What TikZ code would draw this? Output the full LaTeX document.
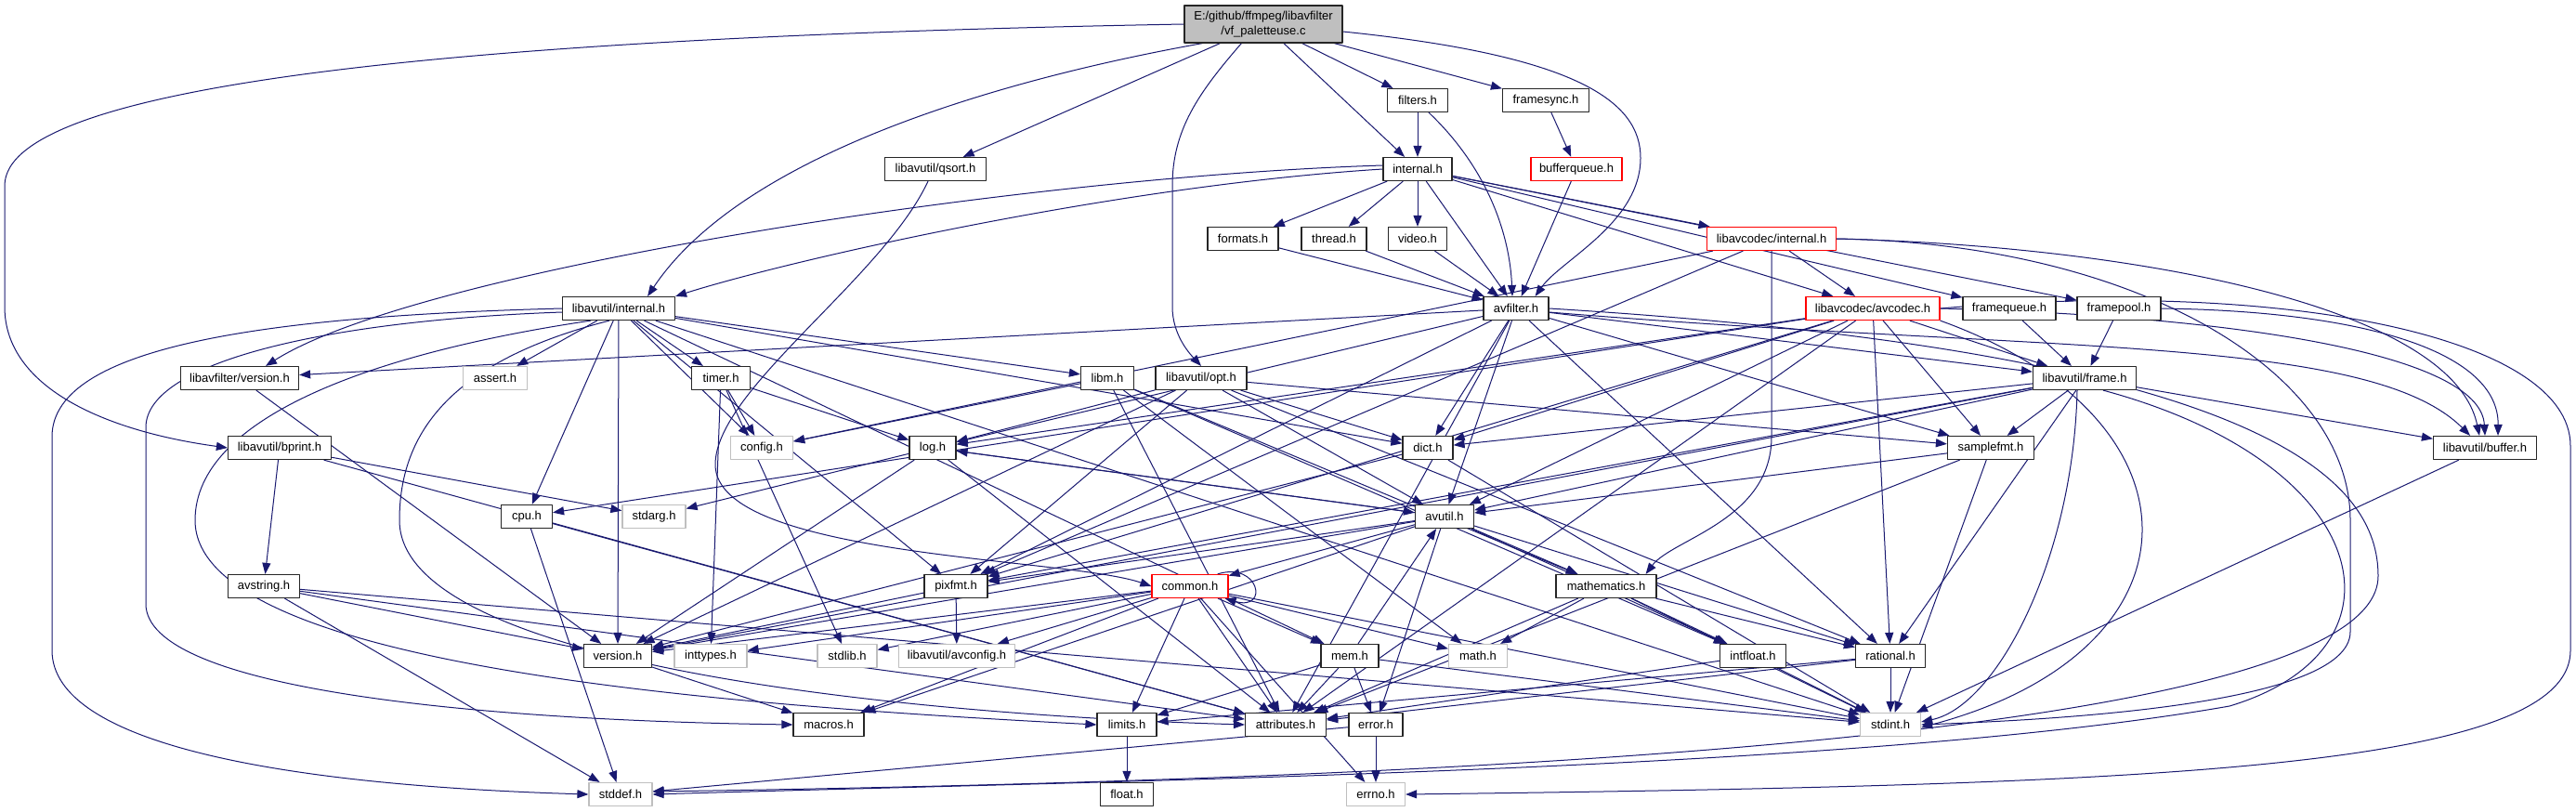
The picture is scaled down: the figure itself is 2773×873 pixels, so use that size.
\documentclass[tikz,border=0pt]{standalone}
\usepackage{fontspec}
\setmainfont{Liberation Sans}
\usetikzlibrary{arrows.meta}
\definecolor{edgeblue}{HTML}{191970}
\definecolor{sysgray}{HTML}{BFBFBF}
\pgfdeclarelayer{paper}
\pgfdeclarelayer{wires}
\pgfsetlayers{paper,wires,main}

\begin{document}
\begin{tikzpicture}[x=1pt,y=-1pt,>={Triangle[length=12pt,width=9pt]},line join=round,
  hdr/.style={draw=black!85,fill=white,line width=1.2pt,minimum height=25pt,inner sep=0pt,font=\fontsize{13pt}{16pt}\selectfont},
  syshdr/.style={hdr,draw=sysgray},
  cuthdr/.style={hdr,draw=red},
  inc/.style={draw=edgeblue,line width=1pt,->}]
\begin{pgfonlayer}{paper}
\fill[white] (0,0) rectangle (2773,873);
\end{pgfonlayer}
\useasboundingbox (0,0) rectangle (2773,873);

% the file itself
\node[hdr,fill=sysgray,minimum width=170pt,minimum height=40pt,align=center] (root) at (1360,26) {E:/github/ffmpeg/libavfilter\\/vf\_paletteuse.c};

% row 1 .. 3
\node[hdr,minimum width=65pt] (filters) at (1526,108) {filters.h};
\node[hdr,minimum width=93pt] (framesync) at (1664,108) {framesync.h};
\node[hdr,minimum width=109pt] (qsort) at (1007,182) {libavutil/qsort.h};
\node[hdr,minimum width=74pt] (lavfiint) at (1526,182) {internal.h};
\node[cuthdr,minimum width=98pt] (bufq) at (1697,182) {bufferqueue.h};
\node[hdr,minimum width=76pt] (formats) at (1338,257) {formats.h};
\node[hdr,minimum width=70pt] (thread) at (1436,257) {thread.h};
\node[hdr,minimum width=63pt] (video) at (1526,257) {video.h};
\node[cuthdr,minimum width=139pt] (lavcint) at (1907,257) {libavcodec/internal.h};

% row 4 .. 7
\node[hdr,minimum width=121pt] (lavuint) at (666,332) {libavutil/internal.h};
\node[hdr,minimum width=70pt] (avfilter) at (1632,332) {avfilter.h};
\node[cuthdr,minimum width=144pt] (avcodec) at (2016,332) {libavcodec/avcodec.h};
\node[hdr,minimum width=100pt] (frmqueue) at (2163,332) {framequeue.h};
\node[hdr,minimum width=90pt] (frmpool) at (2281,332) {framepool.h};
\node[hdr,minimum width=127pt] (lavfiver) at (258,407) {libavfilter/version.h};
\node[syshdr,minimum width=69pt] (assert) at (533,407) {assert.h};
\node[hdr,minimum width=63pt] (timer) at (776,407) {timer.h};
\node[hdr,minimum width=57pt] (libm) at (1192,407) {libm.h};
\node[hdr,minimum width=98pt] (opt) at (1293,407) {libavutil/opt.h};
\node[hdr,minimum width=111pt] (frame) at (2244,407) {libavutil/frame.h};
\node[hdr,minimum width=111pt] (bprint) at (301,482) {libavutil/bprint.h};
\node[syshdr,minimum width=67pt] (config) at (820,482) {config.h};
\node[hdr,minimum width=50pt] (log) at (1004,482) {log.h};
\node[hdr,minimum width=54pt] (dict) at (1537,482) {dict.h};
\node[hdr,minimum width=93pt] (samplefmt) at (2143,482) {samplefmt.h};
\node[hdr,minimum width=111pt] (buffer) at (2675,482) {libavutil/buffer.h};
\node[hdr,minimum width=55pt] (cpu) at (567,556) {cpu.h};
\node[syshdr,minimum width=68pt] (stdarg) at (704,556) {stdarg.h};
\node[hdr,minimum width=63pt] (avutil) at (1555,556) {avutil.h};

% row 8 .. 11
\node[hdr,minimum width=77pt] (avstring) at (284,631) {avstring.h};
\node[hdr,minimum width=68pt] (pixfmt) at (1029,631) {pixfmt.h};
\node[cuthdr,minimum width=82pt] (common) at (1281,631) {common.h};
\node[hdr,minimum width=108pt] (mathem) at (1729,631) {mathematics.h};
\node[hdr,minimum width=73pt] (version) at (665,706) {version.h};
\node[syshdr,minimum width=78pt] (inttypes) at (765,706) {inttypes.h};
\node[syshdr,minimum width=64pt] (stdlib) at (912,706) {stdlib.h};
\node[syshdr,minimum width=125pt] (avconfig) at (1030,706) {libavutil/avconfig.h};
\node[hdr,minimum width=62pt] (mem) at (1453,706) {mem.h};
\node[syshdr,minimum width=63pt] (math) at (1591,706) {math.h};
\node[hdr,minimum width=71pt] (intfloat) at (1887,706) {intfloat.h};
\node[hdr,minimum width=75pt] (rational) at (2035,706) {rational.h};
\node[hdr,minimum width=76pt] (macros) at (892,780) {macros.h};
\node[hdr,minimum width=64pt] (limits) at (1213,780) {limits.h};
\node[hdr,minimum width=87pt] (attrib) at (1384,780) {attributes.h};
\node[hdr,minimum width=58pt] (error) at (1481,780) {error.h};
\node[syshdr,minimum width=65pt] (stdint) at (2035,780) {stdint.h};
\node[syshdr,minimum width=68pt] (stddef) at (668,855) {stddef.h};
\node[hdr,minimum width=57pt] (float) at (1213,855) {float.h};
\node[syshdr,minimum width=63pt] (errno) at (1481,855) {errno.h};

\begin{pgfonlayer}{wires}
% direct includes
\foreach \from/\to in {root/qsort,root/filters,root/framesync,root/lavfiint,filters/lavfiint,
  framesync/bufq,bufq/avfilter,
  lavfiint/formats,lavfiint/thread,lavfiint/video,lavfiint/avfilter,lavfiint/lavcint,lavfiint/avcodec,lavfiint/frmqueue,lavfiint/frmpool,
  formats/avfilter,thread/avfilter,video/avfilter,
  lavcint/avcodec,lavcint/pixfmt,lavcint/config,
  avcodec/dict,avcodec/avutil,avcodec/log,avcodec/pixfmt,avcodec/cpu,avcodec/samplefmt,avcodec/frame,avcodec/rational,avcodec/attrib,
  avfilter/lavfiver,avfilter/attrib,avfilter/avutil,avfilter/dict,avfilter/frame,avfilter/log,avfilter/samplefmt,avfilter/pixfmt,avfilter/rational,
  frmqueue/frame,frmpool/frame,
  lavuint/assert,lavuint/config,lavuint/timer,lavuint/cpu,lavuint/dict,lavuint/mem,lavuint/pixfmt,lavuint/version,lavuint/libm,lavuint/stdint,
  timer/config,timer/log,timer/inttypes,timer/stdlib,
  libm/config,libm/math,libm/attrib,libm/intfloat,libm/mathem,
  opt/rational,opt/avutil,opt/dict,opt/log,opt/pixfmt,opt/samplefmt,opt/version,
  frame/avutil,frame/buffer,frame/dict,frame/rational,frame/samplefmt,frame/pixfmt,frame/version,
  lavfiver/version,bprint/stdarg,bprint/attrib,bprint/avstring,cpu/stddef,cpu/attrib,
  log/stdarg,log/avutil,log/attrib,log/version,dict/stdint,dict/version,
  samplefmt/avutil,samplefmt/attrib,samplefmt/stdint,buffer/stdint,
  avutil/common,avutil/error,avutil/version,avutil/macros,avutil/mathem,avutil/rational,avutil/log,avutil/pixfmt,avutil/intfloat,
  avstring/stddef,avstring/stdint,avstring/attrib,avstring/version,pixfmt/avconfig,pixfmt/version,
  common/errno,common/inttypes,common/limits,common/math,common/stdint,common/stdlib,common/attrib,common/macros,common/version,common/avconfig,common/mem,
  mathem/stdint,mathem/math,mathem/attrib,mathem/rational,mathem/intfloat,
  mem/limits,mem/stdint,mem/attrib,mem/error,mem/avutil,version/macros,
  rational/stdint,rational/limits,rational/attrib,intfloat/stdint,intfloat/attrib,
  error/errno,error/stddef,limits/float}
  \draw[inc] (\from) -- (\to);

% routed includes
\draw[inc] (root.west) .. controls (500,40) and (5,90) .. (5,200) -- (5,330) .. controls (5,420) and (120,465) .. (bprint.west);
\draw[inc] ([xshift=20pt]root.south west) .. controls (1080,85) and (800,165) .. ([xshift=-30pt]lavuint.north east);
\draw[inc] ([xshift=62pt]root.south west) .. controls (1290,100) and (1262,140) .. (1262,200) -- (1262,330) .. controls (1262,360) and (1280,380) .. (opt.north);
\draw[inc] ([yshift=-8pt]root.east) .. controls (1700,60) and (1766,110) .. (1766,170) .. controls (1766,240) and (1680,280) .. ([xshift=-15pt]avfilter.north east);
\draw[inc] ([xshift=12pt]filters.south) .. controls (1600,180) and (1625,250) .. ([xshift=-4pt]avfilter.north);
\draw[inc] ([xshift=-8pt]qsort.south) .. controls (950,300) and (770,420) .. (770,500) .. controls (770,600) and (1150,600) .. (common.west);
\draw[inc] (lavfiint.west) .. controls (1200,200) and (850,280) .. (lavuint.north east);
\draw[inc] ([yshift=4pt]lavfiint.west) .. controls (1100,190) and (450,290) .. ([xshift=28pt]lavfiver.north);
\draw[inc] (lavcint.south) -- (1907,470) .. controls (1907,560) and (1800,580) .. ([xshift=-12pt]mathem.north east);
\draw[inc] (lavcint.east) .. controls (2300,265) and (2640,330) .. ([xshift=-6pt]buffer.north);
\draw[inc] (avcodec.east) .. controls (2400,340) and (2670,380) .. (buffer.north);
\draw[inc] ([yshift=-4pt]avfilter.east) .. controls (2200,380) and (2550,360) .. ([xshift=-16pt]buffer.north);
\draw[inc] (frmpool.east) .. controls (2550,335) and (2690,380) .. ([xshift=14pt]buffer.north);
\draw[inc] (avcodec.east) .. controls (2450,300) and (2767,360) .. (2767,480) -- (2767,700) .. controls (2767,830) and (2300,845) .. (errno.east);
\draw[inc] (lavcint.east) .. controls (2300,262) and (2530,400) .. (2530,560) -- (2530,680) .. controls (2530,760) and (2200,775) .. (stdint.east);
\draw[inc] ([xshift=-8pt]frame.south) .. controls (2232,600) and (2150,760) .. ([yshift=3pt]stdint.east);
\draw[inc] (avcodec.south east) .. controls (2380,450) and (2380,700) .. ([yshift=-3pt]stdint.east);
\draw[inc] ([xshift=20pt]frame.south) .. controls (2560,500) and (2600,700) .. (2400,760) .. controls (2000,830) and (1200,840) .. (stddef.east);
\draw[inc] (avfilter.east) .. controls (2450,380) and (2560,520) .. (2560,620) .. controls (2560,800) and (1500,840) .. ([yshift=3pt]stddef.east);
\draw[inc] (lavuint.west) .. controls (300,340) and (56,370) .. (56,470) -- (56,700) .. controls (56,800) and (300,845) .. (stddef.west);
\draw[inc] ([yshift=-4pt]lavuint.west) .. controls (350,345) and (157,390) .. (157,460) -- (157,650) .. controls (157,740) and (500,775) .. (macros.west);
\draw[inc] ([xshift=-30pt]lavuint.south) .. controls (400,380) and (210,450) .. (210,560) .. controls (210,720) and (800,760) .. (limits.west);
\draw[inc] ([xshift=-10pt]lavuint.south) .. controls (480,390) and (430,470) .. (430,560) .. controls (430,720) and (1000,770) .. (attrib.west);
\draw[inc] ([xshift=-12pt]common.north east) .. controls +(45,-14) and +(48,14) .. ([xshift=-4pt]common.south east);
\end{pgfonlayer}
\end{tikzpicture}
\end{document}
